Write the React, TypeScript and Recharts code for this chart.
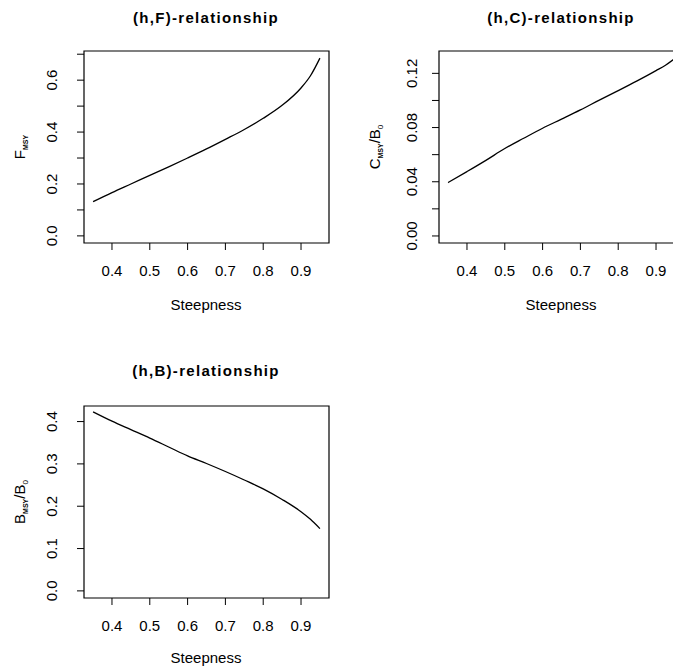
import { LineChart, Line, XAxis, YAxis, ReferenceArea } from "recharts"

// steepness grid and the three reference-point curves
const steepness = [0.35, 0.4, 0.45, 0.5, 0.55, 0.6, 0.65, 0.7, 0.75, 0.8, 0.85, 0.9, 0.925, 0.95]
const fMsy = [0.132, 0.167, 0.2, 0.233, 0.266, 0.3, 0.335, 0.372, 0.41, 0.453, 0.503, 0.57, 0.617, 0.685]
const cMsyRatio = [0.0394, 0.0475, 0.0558, 0.0645, 0.0721, 0.0795, 0.0862, 0.093, 0.1002, 0.1072, 0.1144, 0.122, 0.126, 0.131]
const bMsyRatio = [0.423, 0.401, 0.381, 0.361, 0.34, 0.319, 0.301, 0.282, 0.262, 0.241, 0.216, 0.187, 0.169, 0.147]

const xDomain: [number, number] = [0.326, 0.974]
const xTicks = [0.4, 0.5, 0.6, 0.7, 0.8, 0.9]
const fTicks = [0, 0.1, 0.2, 0.3, 0.4, 0.5, 0.6, 0.7]
const fLabels = [0, 0.2, 0.4, 0.6]
const cTicks = [0, 0.02, 0.04, 0.06, 0.08, 0.1, 0.12]
const cLabels = [0, 0.04, 0.08, 0.12]
const bTicks = [0, 0.1, 0.2, 0.3, 0.4]
const bLabels = [0, 0.1, 0.2, 0.3, 0.4]

const font = "'Liberation Sans', Arial, Helvetica, sans-serif"

const XTick = (props: any) => {
  const { x, y, payload } = props
  return (
    <text x={x} y={y} textAnchor="middle" dominantBaseline="central" fontSize={15} fontFamily={font} fill="#000">
      {payload.value.toFixed(1)}
    </text>
  )
}

const makeYTick = (labels: number[], digits: number) => (props: any) => {
  const { x, y, payload } = props
  if (!labels.includes(payload.value)) return <g />
  return (
    <text
      x={x}
      y={y}
      transform={`rotate(-90 ${x} ${y})`}
      textAnchor="middle"
      dominantBaseline="central"
      fontSize={15}
      fontFamily={font}
      fill="#000"
    >
      {payload.value.toFixed(digits)}
    </text>
  )
}

type PanelProps = {
  left: number
  top: number
  width: number
  height: number
  margin: { top: number; right: number; bottom: number; left: number }
  yWidth: number
  values: number[]
  yDomain: [number, number]
  yTicks: number[]
  yLabels: number[]
  digits: number
  yTickMargin: number
}

function Panel(p: PanelProps) {
  const rows = steepness.map((h, i) => ({ h, v: p.values[i] }))
  return (
    <div style={{ position: "absolute", left: p.left, top: p.top }}>
      <LineChart width={p.width} height={p.height} data={rows} margin={p.margin}>
        <XAxis
          dataKey="h"
          type="number"
          domain={xDomain}
          ticks={xTicks}
          allowDataOverflow
          height={40}
          tickSize={7}
          tickMargin={20}
          tick={XTick}
          axisLine={false}
          tickLine={{ stroke: "#000" }}
        />
        <YAxis
          type="number"
          domain={p.yDomain}
          ticks={p.yTicks}
          allowDataOverflow
          width={p.yWidth}
          tickSize={7}
          tickMargin={p.yTickMargin}
          tick={makeYTick(p.yLabels, p.digits)}
          axisLine={false}
          tickLine={{ stroke: "#000" }}
        />
        {/* plot frame, like R's box() */}
        <ReferenceArea
          x1={xDomain[0]}
          x2={xDomain[1]}
          y1={p.yDomain[0]}
          y2={p.yDomain[1]}
          fill="none"
          stroke="#000"
          strokeWidth={1.2}
          ifOverflow="visible"
        />
        <Line dataKey="v" type="monotone" stroke="#000" strokeWidth={1.3} dot={false} isAnimationActive={false} />
      </LineChart>
    </div>
  )
}

export default function App() {
  const title = { fontSize: 15, fontWeight: 700, letterSpacing: 1.3, fontFamily: font, textAnchor: "middle" as const }
  const axisTitle = { fontSize: 15, fontFamily: font, textAnchor: "middle" as const }
  return (
    <div style={{ position: "absolute", left: 0, top: 0, width: 673, height: 670, overflow: "hidden", background: "#fff" }}>
      <Panel
        left={0}
        top={0}
        width={336}
        height={330}
        margin={{ top: 51, right: 7, bottom: 47, left: 0 }}
        yWidth={84}
        values={fMsy}
        yDomain={[-0.0274, 0.7124]}
        yTicks={fTicks}
        yLabels={fLabels}
        digits={1}
        yTickMargin={25}
      />
      <Panel
        left={340}
        top={0}
        width={350}
        height={330}
        margin={{ top: 51, right: 6, bottom: 47, left: 0 }}
        yWidth={99}
        values={cMsyRatio}
        yDomain={[-0.0052, 0.1365]}
        yTicks={cTicks}
        yLabels={cLabels}
        digits={2}
        yTickMargin={20}
      />
      <Panel
        left={0}
        top={330}
        width={336}
        height={340}
        margin={{ top: 76, right: 7, bottom: 32, left: 0 }}
        yWidth={84}
        values={bMsyRatio}
        yDomain={[-0.0168, 0.4368]}
        yTicks={bTicks}
        yLabels={bLabels}
        digits={1}
        yTickMargin={25}
      />
      <svg width={673} height={670} style={{ position: "absolute", left: 0, top: 0, pointerEvents: "none" }}>
        <text x={206} y={23} {...title}>(h,F)-relationship</text>
        <text x={561} y={23} {...title}>(h,C)-relationship</text>
        <text x={206} y={376} {...title}>(h,B)-relationship</text>

        <text x={206} y={310} {...axisTitle}>Steepness</text>
        <text x={561} y={310} {...axisTitle}>Steepness</text>
        <text x={206} y={663} {...axisTitle}>Steepness</text>

        <text transform="translate(25,147) rotate(-90)" {...axisTitle}>
          F<tspan fontSize={7} fontWeight={700} dy={3}>MSY</tspan>
        </text>
        <text transform="translate(380,147) rotate(-90)" {...axisTitle}>
          C<tspan fontSize={7} fontWeight={700} dy={3}>MSY</tspan>
          <tspan dy={-3}>/B</tspan>
          <tspan fontSize={8} dy={3}>0</tspan>
        </text>
        <text transform="translate(25,502) rotate(-90)" {...axisTitle}>
          B<tspan fontSize={7} fontWeight={700} dy={3}>MSY</tspan>
          <tspan dy={-3}>/B</tspan>
          <tspan fontSize={8} dy={3}>0</tspan>
        </text>
      </svg>
    </div>
  )
}
